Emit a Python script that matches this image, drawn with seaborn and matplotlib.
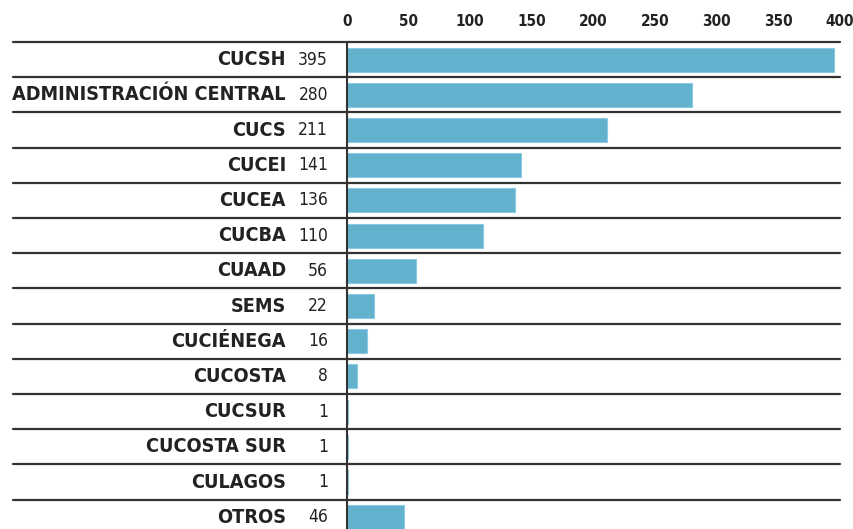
import numpy as np
import pandas as pd
import seaborn as sns
import matplotlib.pyplot as plt

categorias = ['CUCSH', 'ADMINISTRACIÓN CENTRAL', 'CUCS', 'CUCEI', 'CUCEA', 'CUCBA',
              'CUAAD', 'SEMS', 'CUCIÉNEGA', 'CUCOSTA', 'CUCSUR', 'CUCOSTA SUR',
              'CULAGOS', 'OTROS']
valores = [395, 280, 211, 141, 136, 110, 56, 22, 16, 8, 1, 1, 1, 46]
ticks = [0, 50, 100, 150, 200, 250, 300, 350, 400]

sns.set_style('white')
plt.rcParams['font.family'] = ['DejaVu Sans']
plt.rcParams['font.stretch'] = 'condensed'

df = pd.DataFrame({'cat': categorias, 'val': valores})

fig = plt.figure(figsize=(8.54, 5.29), dpi=100)
ax = fig.add_axes([347/854, 0, 493/854, 1 - 42/529])

sns.barplot(data=df, x='val', y='cat', orient='h', color='#62b2ce',
            saturation=1, width=0.68, edgecolor='#8ccadf', linewidth=0.8, ax=ax)

ax.set_xlim(0, 400)
n = len(categorias)
# fila de ~35 px; la última fila queda cortada por el borde inferior
ax.set_ylim(-0.5 + (529 - 42) / 35.2, -0.5)

ax.xaxis.tick_top()
ax.set_xticks(ticks)
ax.set_xticklabels([str(t) for t in ticks], fontsize=11, fontweight='bold',
                   fontstretch='condensed', color='#222222')
ax.tick_params(axis='x', length=0, pad=9)
ax.set_yticks([])
ax.set_xlabel('')
ax.set_ylabel('')

for s in ['top', 'right', 'bottom']:
    ax.spines[s].set_visible(False)
ax.spines['left'].set_color('#333333')
ax.spines['left'].set_linewidth(1.5)

xmin = -334 / 493
for i in range(n):
    ax.axhline(i - 0.5, xmin=xmin, xmax=1, color='#333333', lw=1.6, clip_on=False, zorder=3)

tr = ax.get_yaxis_transform()
for i, (c, v) in enumerate(zip(categorias, valores)):
    ax.text(-61/493, i, c, transform=tr, ha='right', va='center',
            fontsize=14.2, fontweight='bold', fontstretch='condensed', color='#222222')
    ax.text(-19/493, i, str(v), transform=tr, ha='right', va='center',
            fontsize=12.5, fontstretch='condensed', color='#222222')

plt.savefig('out.png', dpi=100)
